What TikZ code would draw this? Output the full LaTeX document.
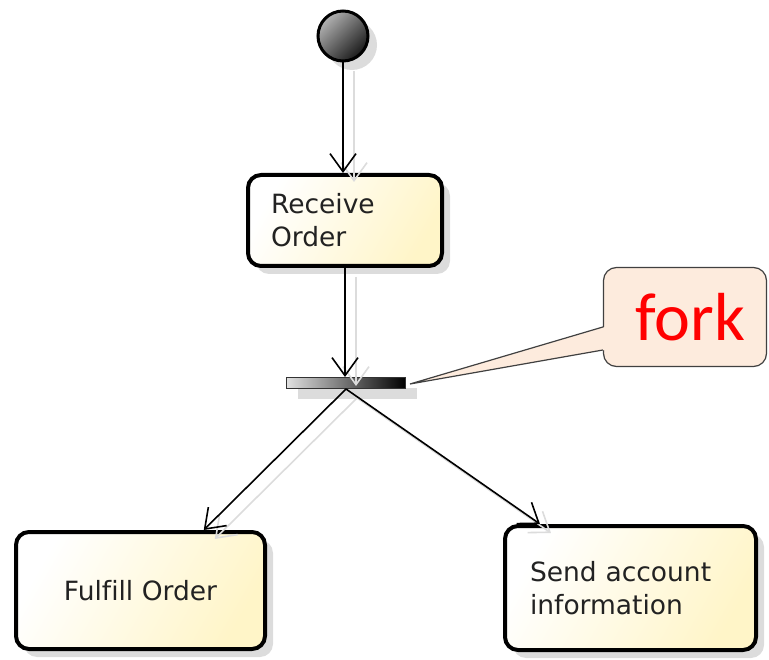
\documentclass[tikz,border=0pt]{standalone}
\usepackage{fontspec}
\setmainfont{DejaVu Sans}[Ligatures=CommonOff]
\newfontfamily\notefont{Carlito}
\usetikzlibrary{arrows.meta,shadows,calc}
\definecolor{boxyel}{HTML}{FFF5C8}
\definecolor{notefill}{HTML}{FDEBDD}
\definecolor{shadowgray}{HTML}{DCDCDC}
\definecolor{txt}{HTML}{222222}
\begin{document}
\begin{tikzpicture}[x=1pt,y=-1pt,
  shadowed/.style={drop shadow={shadow xshift=#1pt, shadow yshift=-#1pt, fill=shadowgray, opacity=1}},
  act/.style={draw=black, line width=4pt, rounded corners=13pt,
    top color=white, bottom color=boxyel, shading angle=60,
    shadowed=8, font=\fontsize{26.5}{33}\selectfont, text=txt, inner sep=0pt},
  flow/.style={line width=1.6pt, -{Straight Barb[length=18pt,width=26pt,line width=1.6pt]}},
  flowshadow/.style={flow, draw=shadowgray, transform canvas={shift={(11,9)}}},
]
\path[use as bounding box] (0,0) rectangle (769,660);

% nodes
\node[circle, draw=black, line width=3pt, minimum size=50, inner sep=0pt,
      top color=black!30, bottom color=black!90, shading angle=45, shadowed=9] (start) at (343,36) {};
\node[act, minimum width=194, minimum height=91, text width=148, align=left] (recv) at (345,220.5) {Receive\\Order};
\node[act, minimum width=249, minimum height=117, align=center] (fulfill) at (140.5,590.5) {Fulfill Order};
\node[act, minimum width=251, minimum height=124, text width=201, align=left] (send) at (630.5,588) {Send account\\information};
\node[draw=black!80, line width=1pt, left color=black!12, right color=black, minimum width=119, minimum height=11,
      inner sep=0pt, shadowed=11] (fork) at (346,383) {};
\node[draw=black!75, line width=1.2pt, fill=notefill, rounded corners=13pt, minimum width=163, minimum height=99,
      inner sep=0pt, text=red, font=\notefont\fontsize{68}{68}\selectfont] (note) at (685,317) {\hspace*{11pt}fork};

% note pointer
\coordinate (tip) at ($(fork.east)+(4,1)$);
\coordinate (pa) at ($(note.west)+(0,10)$);
\coordinate (pb) at ($(note.west)+(0,33)$);
\fill[notefill] (tip) -- ($(pa)+(2,0)$) -- ($(pb)+(2,0)$) -- cycle;
\draw[black!75, line width=1.2pt] (pa) -- (tip) -- (pb);

% connector end points
\coordinate (ff) at ($(fulfill.north west)!0.75!(fulfill.north east)$);
\coordinate (sf) at ($(send.north west)!0.145!(send.north east)$);

% connector shadows
\draw[flowshadow] (start.south) -- (start.south |- recv.north);
\draw[flowshadow] (recv.south) -- (recv.south |- fork.north);
\draw[flowshadow] (fork.south) -- (ff);
\draw[flowshadow] (fork.south) -- (sf);

% connectors
\draw[flow] (start.south) -- (start.south |- recv.north);
\draw[flow] (recv.south) -- (recv.south |- fork.north);
\draw[flow] (fork.south) -- (ff);
\draw[flow] (fork.south) -- (sf);
\end{tikzpicture}
\end{document}
